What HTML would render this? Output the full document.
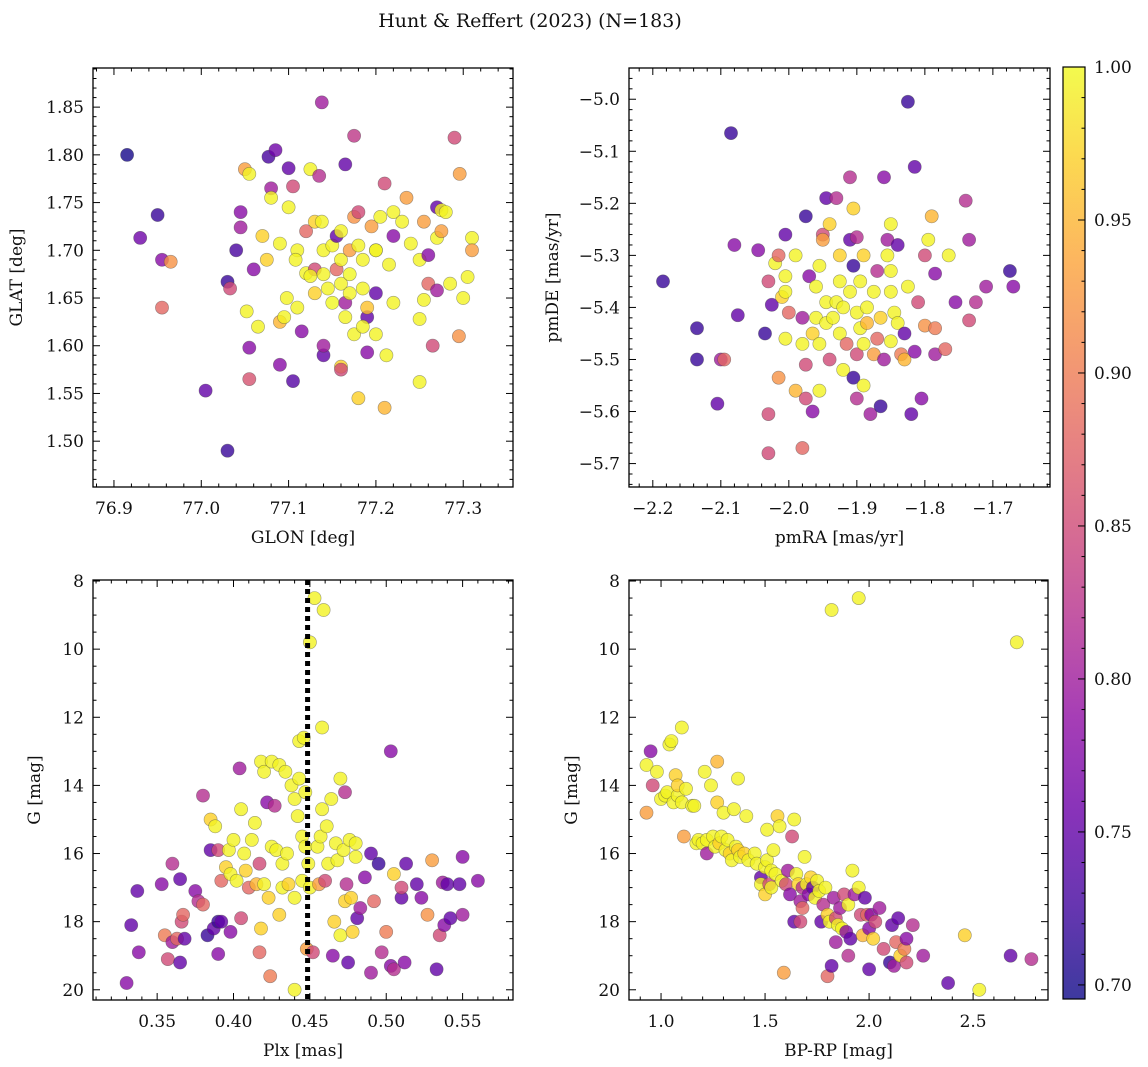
<!DOCTYPE html>
<html><head><meta charset="utf-8">
<style>
html,body{margin:0;padding:0;background:#fff;}
svg{display:block;font-family:"DejaVu Serif","Liberation Serif",serif;}
</style></head>
<body>
<svg id="fig" width="1148" height="1067" viewBox="0 0 1148 1067" xmlns="http://www.w3.org/2000/svg">
<text x="530" y="27" font-size="19" text-anchor="middle" fill="#111">Hunt &amp; Reffert (2023) (N=183)</text>
</svg>
<script>
// ---- data (panel 1: GLON/GLAT) ----
const p1Glon=[76.915,76.95,76.93,76.955,76.965,76.955,77.005,77.03,77.03,77.033,77.04,77.045,77.045,77.05,77.055,77.052,77.055,77.055,77.06,77.065,77.07,77.075,77.077,77.08,77.08,77.085,77.09,77.09,77.09,77.095,77.1,77.1,77.105,77.105,77.11,77.11,77.115,77.12,77.12,77.125,77.13,77.13,77.13,77.135,77.138,77.138,77.14,77.14,77.14,77.14,77.145,77.15,77.15,77.155,77.155,77.16,77.16,77.16,77.16,77.16,77.165,77.165,77.17,77.17,77.17,77.175,77.175,77.18,77.18,77.18,77.185,77.185,77.19,77.19,77.195,77.2,77.2,77.2,77.205,77.21,77.215,77.22,77.22,77.23,77.235,77.22,77.24,77.25,77.255,77.26,77.26,77.255,77.25,77.265,77.25,77.27,77.275,77.27,77.275,77.27,77.285,77.29,77.296,77.31,77.31,77.305,77.295,77.3,77.28,77.21,77.212,77.19,77.175,77.165,77.125,77.108,77.098,77.185,77.2];
const p1Glat=[1.80,1.737,1.713,1.69,1.688,1.64,1.553,1.49,1.667,1.66,1.70,1.724,1.74,1.785,1.78,1.636,1.598,1.565,1.68,1.62,1.715,1.69,1.798,1.765,1.755,1.805,1.707,1.58,1.625,1.63,1.745,1.786,1.767,1.563,1.70,1.64,1.615,1.676,1.72,1.785,1.73,1.68,1.655,1.778,1.855,1.73,1.70,1.675,1.59,1.60,1.66,1.705,1.645,1.715,1.68,1.72,1.69,1.665,1.578,1.575,1.79,1.645,1.70,1.675,1.655,1.82,1.735,1.74,1.545,1.705,1.69,1.66,1.63,1.64,1.725,1.70,1.655,1.612,1.735,1.77,1.685,1.74,1.715,1.73,1.755,1.645,1.707,1.69,1.73,1.695,1.665,1.648,1.628,1.60,1.562,1.745,1.742,1.713,1.72,1.658,1.665,1.818,1.78,1.713,1.70,1.672,1.61,1.65,1.74,1.535,1.59,1.593,1.612,1.63,1.673,1.69,1.65,1.62,1.70];
const p1Prob=[0.70,0.72,0.76,0.78,0.92,0.88,0.75,0.72,0.72,0.85,0.73,0.8,0.78,0.93,0.995,0.995,0.78,0.86,0.78,0.995,0.97,0.97,0.73,0.8,0.995,0.76,0.995,0.78,0.95,0.995,0.995,0.75,0.85,0.74,0.995,0.995,0.78,0.995,0.88,0.995,0.97,0.85,0.97,0.82,0.8,0.995,0.995,0.995,0.75,0.8,0.995,0.995,0.999,0.75,0.88,0.995,0.995,0.995,0.97,0.85,0.75,0.8,0.93,0.999,0.995,0.83,0.92,0.85,0.97,0.995,0.995,0.995,0.75,0.96,0.93,0.995,0.75,0.995,0.995,0.85,0.995,0.995,0.78,0.995,0.93,0.995,0.995,0.995,0.93,0.78,0.88,0.995,0.995,0.85,0.995,0.75,0.995,0.995,0.93,0.8,0.995,0.85,0.93,0.995,0.93,0.995,0.92,0.995,0.995,0.95,0.995,0.78,0.995,0.995,0.995,0.995,0.995,0.995,0.995];
// ---- panel 2: pmRA/pmDE ----
const p2Pmra=[-2.185,-2.085,-2.135,-2.135,-2.075,-2.08,-2.1,-2.095,-2.105,-2.045,-2.03,-2.035,-2.025,-2.02,-2.015,-2.03,-2.03,-2.015,-2.01,-2.005,-2.005,-2.005,-2.005,-2.0,-1.99,-1.99,-1.98,-1.98,-1.975,-1.975,-1.98,-1.975,-1.97,-1.965,-1.965,-1.96,-1.96,-1.955,-1.955,-1.955,-1.95,-1.95,-1.945,-1.945,-1.945,-1.94,-1.94,-1.935,-1.93,-1.93,-1.925,-1.925,-1.925,-1.92,-1.92,-1.915,-1.91,-1.91,-1.905,-1.905,-1.905,-1.9,-1.9,-1.9,-1.9,-1.895,-1.895,-1.89,-1.89,-1.89,-1.885,-1.885,-1.88,-1.875,-1.875,-1.87,-1.87,-1.865,-1.865,-1.86,-1.86,-1.855,-1.855,-1.85,-1.85,-1.85,-1.85,-1.845,-1.84,-1.84,-1.835,-1.83,-1.83,-1.825,-1.825,-1.82,-1.815,-1.815,-1.81,-1.805,-1.8,-1.8,-1.795,-1.79,-1.785,-1.785,-1.785,-1.77,-1.765,-1.755,-1.74,-1.735,-1.735,-1.725,-1.71,-1.675,-1.67,-1.91];
const p2Pmde=[-5.35,-5.065,-5.44,-5.5,-5.415,-5.28,-5.5,-5.5,-5.585,-5.29,-5.35,-5.45,-5.395,-5.315,-5.3,-5.605,-5.68,-5.535,-5.38,-5.34,-5.37,-5.46,-5.26,-5.41,-5.3,-5.56,-5.47,-5.42,-5.225,-5.51,-5.67,-5.575,-5.34,-5.6,-5.45,-5.42,-5.36,-5.56,-5.47,-5.32,-5.26,-5.27,-5.19,-5.39,-5.43,-5.5,-5.24,-5.42,-5.39,-5.19,-5.3,-5.35,-5.45,-5.52,-5.4,-5.47,-5.37,-5.27,-5.32,-5.21,-5.535,-5.41,-5.265,-5.575,-5.49,-5.44,-5.35,-5.3,-5.47,-5.55,-5.43,-5.4,-5.605,-5.49,-5.37,-5.33,-5.46,-5.42,-5.59,-5.5,-5.15,-5.27,-5.3,-5.24,-5.33,-5.37,-5.465,-5.41,-5.28,-5.43,-5.49,-5.5,-5.45,-5.005,-5.36,-5.605,-5.13,-5.485,-5.39,-5.575,-5.3,-5.435,-5.27,-5.225,-5.44,-5.335,-5.49,-5.48,-5.3,-5.39,-5.195,-5.425,-5.27,-5.39,-5.36,-5.33,-5.36,-5.15];
const p2Prob=[0.72,0.72,0.72,0.72,0.75,0.78,0.8,0.88,0.75,0.78,0.85,0.72,0.75,0.995,0.88,0.85,0.85,0.92,0.97,0.995,0.995,0.995,0.75,0.88,0.995,0.95,0.995,0.8,0.72,0.85,0.88,0.85,0.78,0.78,0.97,0.995,0.995,0.995,0.995,0.995,0.85,0.93,0.75,0.995,0.995,0.85,0.97,0.995,0.995,0.82,0.97,0.995,0.995,0.995,0.995,0.88,0.995,0.75,0.72,0.97,0.72,0.995,0.82,0.82,0.85,0.995,0.995,0.97,0.995,0.995,0.95,0.995,0.8,0.93,0.995,0.82,0.88,0.97,0.72,0.8,0.78,0.8,0.995,0.995,0.995,0.995,0.995,0.995,0.75,0.995,0.9,0.95,0.75,0.72,0.995,0.75,0.75,0.78,0.85,0.78,0.85,0.92,0.995,0.95,0.9,0.78,0.8,0.88,0.995,0.78,0.82,0.85,0.8,0.82,0.8,0.72,0.78,0.82];
// ---- panel 3: Plx/G ----
const p3Plx=[0.33,0.333,0.337,0.338,0.353,0.355,0.357,0.36,0.36,0.363,0.365,0.365,0.366,0.367,0.368,0.375,0.377,0.38,0.38,0.383,0.385,0.385,0.387,0.388,0.39,0.39,0.39,0.392,0.392,0.395,0.397,0.398,0.398,0.4,0.402,0.404,0.405,0.405,0.407,0.408,0.41,0.412,0.414,0.415,0.417,0.417,0.418,0.418,0.42,0.42,0.422,0.423,0.424,0.425,0.425,0.427,0.428,0.43,0.43,0.432,0.432,0.434,0.435,0.436,0.438,0.44,0.44,0.44,0.442,0.443,0.443,0.445,0.445,0.446,0.447,0.447,0.448,0.449,0.45,0.45,0.452,0.453,0.455,0.456,0.457,0.458,0.458,0.459,0.46,0.461,0.462,0.464,0.465,0.466,0.467,0.468,0.47,0.47,0.472,0.473,0.473,0.474,0.475,0.476,0.477,0.478,0.48,0.48,0.481,0.483,0.486,0.49,0.492,0.495,0.497,0.5,0.503,0.503,0.505,0.505,0.51,0.512,0.513,0.52,0.523,0.527,0.53,0.533,0.535,0.537,0.538,0.54,0.542,0.548,0.55,0.55,0.56,0.51,0.49];
const p3G=[19.8,18.1,17.1,18.9,16.9,18.4,19.1,18.6,16.3,18.5,19.2,16.75,18.0,17.8,18.5,17.1,17.4,14.3,17.5,18.4,15.0,15.9,18.2,15.2,15.9,18.0,18.95,18.0,16.8,16.4,15.9,16.6,18.3,15.6,16.8,13.5,17.9,14.7,16.0,16.5,17.0,15.6,15.1,16.9,18.9,16.3,18.2,13.3,13.6,16.9,14.5,17.3,19.6,15.8,13.3,14.6,15.9,17.8,13.4,17.0,16.3,13.6,16.0,16.9,14.0,14.4,17.3,20.0,14.9,12.7,13.8,15.5,16.8,12.6,14.2,15.8,18.8,16.3,17.0,9.8,18.9,8.5,15.8,16.9,15.5,14.7,12.3,8.85,16.8,15.2,16.3,14.4,19.0,18.0,15.7,16.2,13.8,18.4,15.9,14.2,17.4,16.9,19.2,15.6,17.3,18.3,16.1,15.7,17.9,17.6,16.7,16.0,17.4,16.3,18.9,18.3,13.0,19.3,16.6,19.4,17.3,19.2,16.3,16.9,17.3,17.8,16.2,19.4,18.4,16.85,18.1,16.9,17.9,16.9,16.1,17.8,16.8,17.0,19.5];
const p3Prob=[0.78,0.75,0.75,0.78,0.78,0.9,0.85,0.8,0.82,0.88,0.75,0.75,0.85,0.88,0.75,0.78,0.82,0.82,0.88,0.72,0.97,0.75,0.75,0.995,0.85,0.72,0.78,0.75,0.88,0.97,0.995,0.995,0.78,0.995,0.995,0.8,0.85,0.995,0.995,0.97,0.88,0.995,0.995,0.95,0.88,0.85,0.97,0.995,0.995,0.995,0.78,0.97,0.9,0.995,0.995,0.82,0.995,0.97,0.995,0.995,0.995,0.995,0.995,0.97,0.995,0.995,0.995,0.995,0.995,0.995,0.995,0.995,0.995,0.995,0.995,0.995,0.93,0.995,0.995,0.995,0.85,0.995,0.995,0.93,0.995,0.995,0.995,0.995,0.85,0.995,0.995,0.995,0.78,0.97,0.995,0.995,0.995,0.995,0.995,0.82,0.97,0.82,0.75,0.995,0.97,0.97,0.995,0.995,0.75,0.8,0.78,0.75,0.88,0.72,0.82,0.9,0.78,0.78,0.97,0.82,0.75,0.78,0.75,0.75,0.78,0.92,0.93,0.75,0.85,0.8,0.78,0.75,0.75,0.75,0.78,0.8,0.78,0.85,0.8];
const p3PlxLine=[0.4485];
// ---- panel 4: BP-RP/G ----
const p4Bprp=[0.93,0.93,0.95,0.96,0.98,1.0,1.02,1.03,1.04,1.05,1.06,1.07,1.08,1.08,1.1,1.1,1.11,1.12,1.15,1.16,1.17,1.18,1.2,1.21,1.22,1.22,1.24,1.25,1.26,1.27,1.27,1.28,1.29,1.3,1.31,1.32,1.33,1.34,1.35,1.36,1.37,1.37,1.38,1.4,1.41,1.42,1.45,1.46,1.48,1.48,1.5,1.5,1.51,1.51,1.52,1.53,1.53,1.54,1.55,1.56,1.57,1.58,1.59,1.6,1.61,1.62,1.63,1.64,1.64,1.65,1.66,1.67,1.67,1.68,1.68,1.69,1.7,1.71,1.72,1.73,1.74,1.75,1.76,1.77,1.78,1.79,1.8,1.8,1.81,1.82,1.82,1.83,1.84,1.84,1.85,1.86,1.87,1.88,1.89,1.9,1.9,1.91,1.92,1.93,1.95,1.95,1.96,1.97,1.98,1.99,2.0,2.0,2.01,2.02,2.03,2.05,2.07,2.1,2.11,2.12,2.13,2.14,2.15,2.17,2.18,2.18,2.21,2.26,2.38,2.46,2.53,2.68,2.71,2.78];
const p4G=[13.4,14.8,13.0,14.0,13.6,14.4,14.3,14.2,12.8,12.7,14.5,13.7,14.3,14.0,12.3,14.5,15.5,14.1,14.6,14.6,15.7,15.6,15.7,13.6,15.6,16.0,14.0,15.5,15.8,13.3,14.5,15.7,15.5,14.8,15.9,15.6,16.0,16.2,14.7,15.8,13.8,15.9,16.1,16.0,14.9,16.2,16.0,16.3,16.7,16.9,16.4,17.2,15.3,16.2,16.9,16.5,17.0,15.9,16.6,14.9,15.2,16.8,19.5,16.9,16.5,17.2,15.5,15.0,18.0,16.6,16.9,17.4,18.0,17.0,17.6,16.1,16.9,17.2,16.7,17.0,17.3,16.8,17.1,18.0,17.5,17.0,19.6,17.8,18.0,19.3,8.85,17.3,18.6,17.9,18.1,17.6,18.2,17.2,18.3,17.5,19.0,18.5,16.5,17.2,17.0,8.5,17.8,18.4,17.3,17.8,18.2,19.4,17.8,18.5,18.0,17.6,18.8,19.2,18.1,19.3,18.6,17.9,19.0,18.8,18.5,19.2,18.1,19.0,19.8,18.4,20.0,19.0,9.8,19.1];
const p4Prob=[0.995,0.93,0.78,0.85,0.995,0.995,0.995,0.995,0.995,0.995,0.995,0.97,0.995,0.97,0.995,0.995,0.93,0.995,0.995,0.995,0.995,0.995,0.995,0.995,0.995,0.8,0.995,0.995,0.995,0.95,0.97,0.97,0.995,0.995,0.995,0.995,0.97,0.995,0.995,0.995,0.995,0.97,0.995,0.97,0.995,0.995,0.995,0.995,0.75,0.995,0.995,0.97,0.995,0.995,0.85,0.995,0.995,0.995,0.995,0.97,0.995,0.995,0.93,0.85,0.8,0.78,0.85,0.995,0.75,0.995,0.97,0.8,0.85,0.82,0.88,0.995,0.995,0.78,0.97,0.75,0.995,0.995,0.995,0.75,0.82,0.995,0.88,0.97,0.995,0.75,0.995,0.8,0.8,0.85,0.995,0.8,0.995,0.85,0.78,0.995,0.82,0.75,0.995,0.8,0.995,0.995,0.85,0.95,0.75,0.88,0.78,0.75,0.78,0.97,0.85,0.8,0.85,0.72,0.75,0.8,0.88,0.75,0.97,0.9,0.78,0.85,0.82,0.8,0.75,0.97,0.995,0.75,0.995,0.82];
// ---- colorbar ----
const cbTicks=[0.70,0.75,0.80,0.85,0.90,0.95,1.00];

const NS='http://www.w3.org/2000/svg';
const svg=document.getElementById('fig');
function mk(tag,attrs,parent){const e=document.createElementNS(NS,tag);for(const k in attrs)e.setAttribute(k,attrs[k]);(parent||svg).appendChild(e);return e;}
const VMIN=0.6954,VMAX=1.0;
const stops=[[13,8,135],[65,4,157],[106,0,168],[143,13,164],[177,42,144],[204,71,120],[225,100,98],[242,132,75],[252,166,54],[252,206,37],[240,249,33]];
function plasma(t){t=Math.max(0,Math.min(1,t));const f=t*10,i=Math.min(9,Math.floor(f)),r=f-i;const a=stops[i],b=stops[i+1];return 'rgb('+a.map((v,k)=>Math.round(v+(b[k]-v)*r)).join(',')+')';}
function fmtMinus(s){return s.replace('-','\u2212');}

function panel(cfg){
  const {name,x0,x1,y0,y1,xlim,ylim,xMajor,xMinor,yMajor,yMinor,xfmt,yfmt,xlabel,ylabel,ylabX}=cfg;
  const g=mk('g',{});
  
  
  const sx=v=>x0+(v-xlim[0])/(xlim[1]-xlim[0])*(x1-x0);
  const sy=v=>y0+(v-ylim[0])/(ylim[1]-ylim[0])*(y1-y0);
  const clip=mk('clipPath',{id:'clip-'+name},g);
  mk('rect',{x:x0,y:Math.min(y0,y1),width:x1-x0,height:Math.abs(y1-y0)},clip);
  const pts=mk('g',{'clip-path':'url(#clip-'+name+')'},g);
  
  
  cfg.xs.forEach((xv,i)=>{
    const c=mk('circle',{cx:sx(xv).toFixed(1),cy:sy(cfg.ys[i]).toFixed(1),r:6.6,fill:plasma((cfg.cs[i]-VMIN)/(VMAX-VMIN)),'fill-opacity':0.8,stroke:'#444','stroke-opacity':0.5,'stroke-width':0.6},pts);
    
    
  });
  if(cfg.vline){cfg.vline.forEach(v=>{const l=mk('line',{x1:sx(v),x2:sx(v),y1:Math.min(y0,y1),y2:Math.max(y0,y1),stroke:'#000','stroke-width':5,'stroke-dasharray':'5 4'},g);
    
    });}
  const top=Math.min(y0,y1),bot=Math.max(y0,y1);
  const fr=mk('rect',{x:x0,y:top,width:x1-x0,height:bot-top,fill:'none',stroke:'#000','stroke-width':1.3},g);
  
  
  const eps=1e-9;
  const lo=Math.min(...xlim),hi=Math.max(...xlim);
  for(let v=Math.ceil(lo/xMinor-eps)*xMinor;v<=hi+eps;v+=xMinor){
    const isMaj=Math.abs(v/xMajor-Math.round(v/xMajor))<1e-4;const L=isMaj?7:3.5;const X=sx(v);
    mk('line',{x1:X,x2:X,y1:bot,y2:bot-L,stroke:'#000','stroke-width':1},g);
    mk('line',{x1:X,x2:X,y1:top,y2:top+L,stroke:'#000','stroke-width':1},g);
    if(isMaj){const t=mk('text',{x:X,y:bot+27,'font-size':17,'text-anchor':'middle',fill:'#111'},g);t.textContent=xfmt(v);
      
      }
  }
  const ylo=Math.min(...ylim),yhi=Math.max(...ylim);
  for(let v=Math.ceil(ylo/yMinor-eps)*yMinor;v<=yhi+eps;v+=yMinor){
    const isMaj=Math.abs(v/yMajor-Math.round(v/yMajor))<1e-4;const L=isMaj?7:3.5;const Y=sy(v);
    mk('line',{x1:x0,x2:x0+L,y1:Y,y2:Y,stroke:'#000','stroke-width':1},g);
    mk('line',{x1:x1,x2:x1-L,y1:Y,y2:Y,stroke:'#000','stroke-width':1},g);
    if(isMaj){const t=mk('text',{x:x0-9,y:Y+6,'font-size':17,'text-anchor':'end',fill:'#111'},g);t.textContent=yfmt(v);
      
      }
  }
  const xl=mk('text',{x:(x0+x1)/2,y:bot+56,'font-size':17,'text-anchor':'middle',fill:'#111'},g);xl.textContent=xlabel;
  
  
  const cy=(top+bot)/2;
  const yl=mk('text',{x:ylabX,y:cy,'font-size':17,'text-anchor':'middle',fill:'#111',transform:'rotate(-90 '+ylabX+' '+cy+')'},g);yl.textContent=ylabel;
  
  
}

panel({name:'glon-glat-panel',x0:93,x1:513,y0:487,y1:68,xlim:[76.876,77.357],ylim:[1.452,1.891],xMajor:0.1,xMinor:0.02,yMajor:0.05,yMinor:0.01,
  xfmt:v=>v.toFixed(1),yfmt:v=>v.toFixed(2),xlabel:'GLON [deg]',ylabel:'GLAT [deg]',ylabX:22,xs:p1Glon,ys:p1Glat,cs:p1Prob});
panel({name:'pm-panel',x0:629,x1:1050,y0:487,y1:68,xlim:[-2.235,-1.616],ylim:[-5.745,-4.94],xMajor:0.1,xMinor:0.02,yMajor:0.1,yMinor:0.02,
  xfmt:v=>fmtMinus(v.toFixed(1)),yfmt:v=>fmtMinus(v.toFixed(1)),xlabel:'pmRA [mas/yr]',ylabel:'pmDE [mas/yr]',ylabX:558,xs:p2Pmra,ys:p2Pmde,cs:p2Prob});
panel({name:'plx-g-panel',x0:93,x1:513,y0:580,y1:1000,xlim:[0.308,0.583],ylim:[7.97,20.3],xMajor:0.05,xMinor:0.01,yMajor:2,yMinor:0.5,
  xfmt:v=>v.toFixed(2),yfmt:v=>Math.round(v).toString(),xlabel:'Plx [mas]',ylabel:'G [mag]',ylabX:40,xs:p3Plx,ys:p3G,cs:p3Prob,vline:p3PlxLine});
panel({name:'cmd-panel',x0:629,x1:1048,y0:580,y1:1000,xlim:[0.846,2.86],ylim:[7.97,20.3],xMajor:0.5,xMinor:0.1,yMajor:2,yMinor:0.5,
  xfmt:v=>v.toFixed(1),yfmt:v=>Math.round(v).toString(),xlabel:'BP-RP [mag]',ylabel:'G [mag]',ylabX:577,xs:p4Bprp,ys:p4G,cs:p4Prob});

// colorbar
(function(){
  const cx0=1063,cx1=1085,cy0=67,cy1=999;
  const sy=v=>cy1-(v-VMIN)/(VMAX-VMIN)*(cy1-cy0);
  const g=mk('g',{});
  
  
  const defs=mk('defs',{},g);
  const lg=mk('linearGradient',{id:'cbgrad',x1:0,y1:1,x2:0,y2:0},defs);
  for(let i=0;i<=20;i++){mk('stop',{offset:(i/20),'stop-color':plasma(i/20),'stop-opacity':0.8},lg);}
  const r=mk('rect',{x:cx0,y:cy0,width:cx1-cx0,height:cy1-cy0,fill:'url(#cbgrad)',stroke:'#000','stroke-width':1.2},g);
  
  
  for(let v=0.70;v<=1.0001;v+=0.01){const Y=sy(v);const maj=Math.abs(v*20-Math.round(v*20))<1e-4;
    mk('line',{x1:cx1,x2:cx1-(maj?7:3.5),y1:Y,y2:Y,stroke:'#000','stroke-width':1},g);}
  cbTicks.forEach(v=>{const t=mk('text',{x:cx1+9,y:sy(v)+6,'font-size':17,fill:'#111'},g);t.textContent=v.toFixed(2);
    
    });
})();
</script>
</body></html>
